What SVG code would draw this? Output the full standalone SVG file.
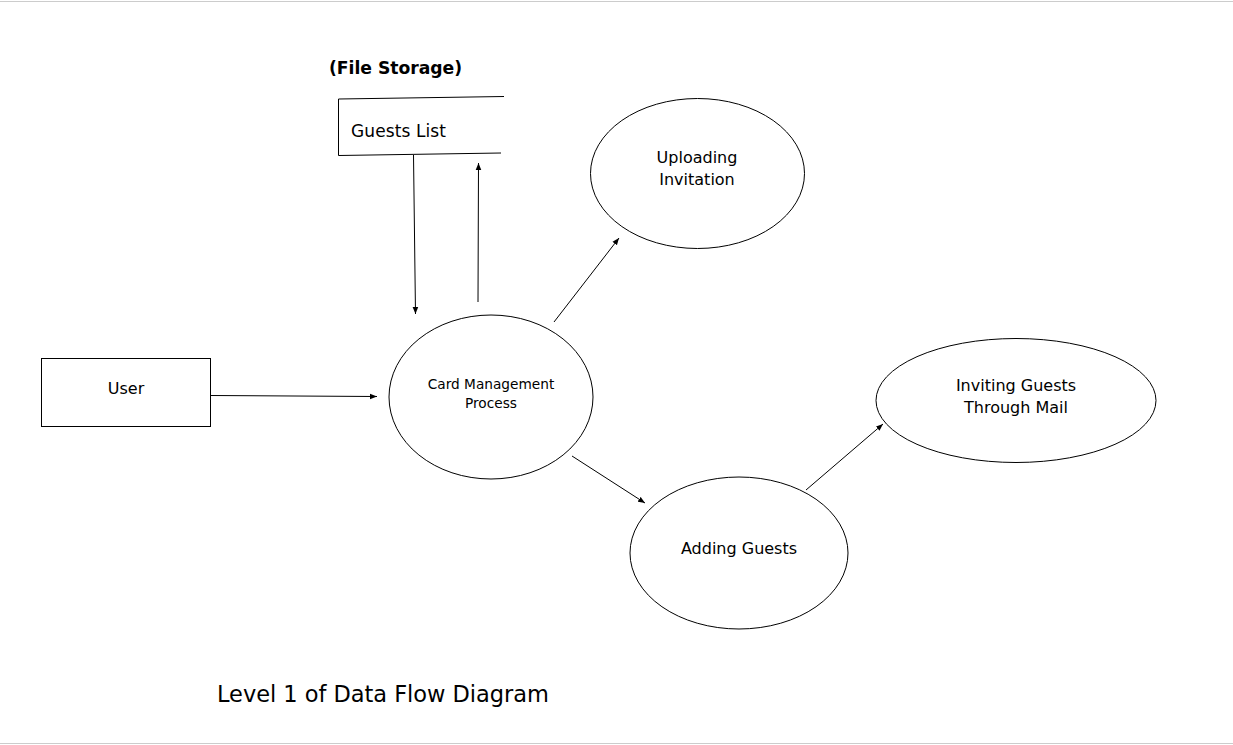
<svg xmlns="http://www.w3.org/2000/svg" width="1233" height="745" viewBox="0 0 1233 745">
<style>
text{font-family:"DejaVu Sans",Verdana,sans-serif;fill:#000}
.s{fill:none;stroke:#000;stroke-width:1}
.c{stroke:#000;stroke-width:1;fill:none;marker-end:url(#ah)}
.m{text-anchor:middle;font-size:16px}
</style>
<defs>
<marker id="ah" viewBox="0 0 10 10" refX="10" refY="5" markerWidth="7" markerHeight="7" markerUnits="userSpaceOnUse" orient="auto">
<path d="M0,1 L10,5 L0,9 z" fill="#000"/>
</marker>
</defs>
<rect width="1233" height="745" fill="#fff"/>
<line x1="0" y1="1.5" x2="1233" y2="1.5" stroke="#ccc"/>
<line x1="0" y1="743.5" x2="1233" y2="743.5" stroke="#ccc"/>
<g id="file-storage">
<text x="329" y="74" font-size="17.2" font-weight="bold" textLength="133">(File Storage)</text>
<path class="s" d="M504,96.5 L338.5,99 L338.5,155.5 L501,153"/>
<text x="351" y="137" font-size="17" textLength="95">Guests List</text>
</g>
<g id="user">
<rect class="s" x="41.5" y="358.5" width="169" height="68"/>
<text class="m" x="126" y="394">User</text>
</g>
<g id="card-management">
<ellipse class="s" cx="491" cy="397" rx="102" ry="82"/>
<text x="491" y="389" font-size="13.7" text-anchor="middle">Card Management</text>
<text x="491" y="408" font-size="13.7" text-anchor="middle">Process</text>
</g>
<g id="uploading">
<ellipse class="s" cx="697.5" cy="173.5" rx="107" ry="75"/>
<text class="m" x="697" y="163">Uploading</text>
<text class="m" x="697" y="185">Invitation</text>
</g>
<g id="adding">
<ellipse class="s" cx="739" cy="553" rx="109" ry="76"/>
<text class="m" x="739" y="554">Adding Guests</text>
</g>
<g id="inviting">
<ellipse class="s" cx="1016" cy="400.5" rx="140" ry="62"/>
<text class="m" x="1016" y="391">Inviting Guests</text>
<text class="m" x="1016" y="413">Through Mail</text>
</g>
<g id="connectors">
<line class="c" x1="413.5" y1="155" x2="415.5" y2="314"/>
<line class="c" x1="478" y1="302" x2="478.5" y2="163"/>
<line class="c" x1="211" y1="395.5" x2="377" y2="396.5"/>
<line class="c" x1="554" y1="322" x2="619" y2="238"/>
<line class="c" x1="572" y1="456" x2="645" y2="503"/>
<line class="c" x1="806" y1="490" x2="883" y2="424"/>
</g>
<text x="217" y="702" font-size="22.5" textLength="332">Level 1 of Data Flow Diagram</text>
</svg>
